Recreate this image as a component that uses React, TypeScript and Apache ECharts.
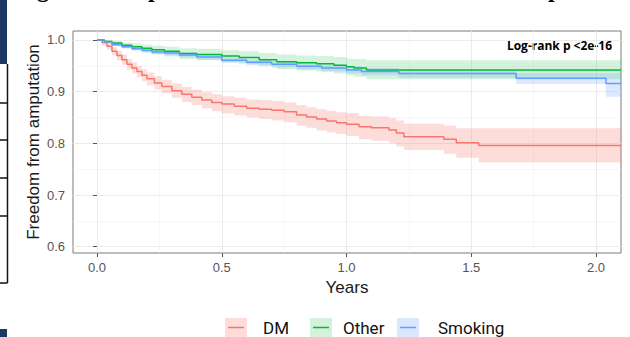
import React, { useEffect, useRef } from "react";
import * as echarts from "echarts";

// Kaplan-Meier estimates (time in years, survival)
const DM_T = [0, 0.02, 0.04, 0.06, 0.08, 0.1, 0.12, 0.14, 0.16, 0.18, 0.2, 0.23, 0.26, 0.3, 0.34, 0.38, 0.42, 0.46, 0.5, 0.55, 0.6, 0.65, 0.7, 0.75, 0.8, 0.84, 0.88, 0.92, 0.96, 1.0, 1.05, 1.1, 1.17, 1.2, 1.23, 1.39, 1.44, 1.53, 2.1];
const DM_S = [1.0, 0.995, 0.988, 0.978, 0.97, 0.962, 0.953, 0.946, 0.939, 0.932, 0.925, 0.917, 0.91, 0.902, 0.895, 0.889, 0.884, 0.879, 0.876, 0.872, 0.868, 0.866, 0.864, 0.861, 0.855, 0.851, 0.847, 0.843, 0.84, 0.837, 0.832, 0.83, 0.826, 0.82, 0.813, 0.808, 0.801, 0.796, 0.796];
const DM_LO = [1.0, 0.99, 0.981, 0.97, 0.961, 0.952, 0.943, 0.935, 0.928, 0.92, 0.912, 0.904, 0.897, 0.888, 0.88, 0.874, 0.868, 0.862, 0.858, 0.854, 0.85, 0.847, 0.844, 0.841, 0.834, 0.83, 0.825, 0.821, 0.818, 0.814, 0.808, 0.805, 0.8, 0.794, 0.787, 0.78, 0.772, 0.763, 0.763];
const DM_HI = [1.0, 0.999, 0.995, 0.986, 0.979, 0.972, 0.963, 0.957, 0.95, 0.944, 0.937, 0.93, 0.923, 0.916, 0.909, 0.904, 0.899, 0.895, 0.891, 0.888, 0.885, 0.884, 0.882, 0.879, 0.874, 0.87, 0.866, 0.863, 0.86, 0.858, 0.853, 0.852, 0.849, 0.844, 0.838, 0.834, 0.829, 0.829, 0.829];

const OT_T = [0, 0.03, 0.06, 0.1, 0.14, 0.18, 0.22, 0.27, 0.33, 0.4, 0.5, 0.57, 0.65, 0.72, 0.8, 0.88, 0.95, 1.0, 1.03, 1.08, 2.1];
const OT_S = [1.0, 0.997, 0.994, 0.99, 0.987, 0.984, 0.981, 0.978, 0.974, 0.972, 0.969, 0.966, 0.962, 0.958, 0.956, 0.954, 0.951, 0.948, 0.946, 0.942, 0.942];
const OT_LO = [1.0, 0.994, 0.989, 0.984, 0.98, 0.976, 0.972, 0.968, 0.963, 0.961, 0.957, 0.953, 0.949, 0.944, 0.941, 0.939, 0.935, 0.932, 0.929, 0.924, 0.922];
const OT_HI = [1.0, 1.0, 0.998, 0.995, 0.993, 0.991, 0.989, 0.987, 0.984, 0.983, 0.98, 0.978, 0.975, 0.972, 0.97, 0.969, 0.967, 0.964, 0.963, 0.961, 0.962];

const SM_T = [0, 0.03, 0.06, 0.1, 0.14, 0.18, 0.22, 0.27, 0.33, 0.4, 0.5, 0.6, 0.7, 0.8, 0.9, 1.0, 1.06, 1.21, 1.68, 2.04, 2.1];
const SM_S = [1.0, 0.996, 0.991, 0.987, 0.983, 0.98, 0.977, 0.975, 0.971, 0.967, 0.961, 0.957, 0.953, 0.949, 0.946, 0.942, 0.939, 0.935, 0.926, 0.916, 0.916];
const SM_LO = [1.0, 0.994, 0.988, 0.984, 0.98, 0.976, 0.973, 0.97, 0.966, 0.962, 0.956, 0.951, 0.947, 0.943, 0.939, 0.935, 0.932, 0.927, 0.915, 0.89, 0.89];
const SM_HI = [1.0, 0.998, 0.994, 0.99, 0.986, 0.984, 0.981, 0.979, 0.976, 0.972, 0.966, 0.962, 0.959, 0.955, 0.952, 0.949, 0.946, 0.943, 0.936, 0.936, 0.936];

const X_TICKS = [0, 0.5, 1.0, 1.5, 2.0];
const Y_TICKS = [0.6, 0.7, 0.8, 0.9, 1.0];
const GROUPS = ["DM", "Other", "Smoking"];
const COLORS = ["#F8766D", "#00BA38", "#619CFF"];
const FILLS = ["rgba(248,118,109,0.25)", "rgba(0,186,56,0.17)", "rgba(97,156,255,0.22)"];
const KEY_FILLS = ["#FDDCDA", "#D4F1DB", "#DBE7FF"];
const PVAL_TEXT = "Log-rank p <2e-16";
const X_TITLE = "Years";
const Y_TITLE = "Freedom from amputation";

export default function App() {
  const ref = useRef<HTMLDivElement>(null);

  useEffect(() => {
    const chart = echarts.init(ref.current!, null, { renderer: "svg" });
    const pairs = (t: number[], v: number[]) => t.map((x, i) => [x, v[i]]);
    const sets = [
      { t: DM_T, s: DM_S, lo: DM_LO, hi: DM_HI },
      { t: OT_T, s: OT_S, lo: OT_LO, hi: OT_HI },
      { t: SM_T, s: SM_S, lo: SM_LO, hi: SM_HI },
    ];
    const series: any[] = [];
    sets.forEach((d, k) => {
      series.push({
        type: "custom", name: GROUPS[k] + " CI", silent: true, z: 1,
        data: [[d.t[0], d.hi[0]]],
        renderItem: (_params: any, api: any) => {
          const upper: number[][] = [];
          const lower: number[][] = [];
          for (let i = 0; i < d.t.length; i++) {
            const tNext = i + 1 < d.t.length ? d.t[i + 1] : d.t[i];
            upper.push(api.coord([d.t[i], d.hi[i]]));
            upper.push(api.coord([tNext, d.hi[i]]));
            lower.push(api.coord([d.t[i], d.lo[i]]));
            lower.push(api.coord([tNext, d.lo[i]]));
          }
          const points = upper.concat(lower.reverse());
          return { type: "polygon", shape: { points }, style: { fill: FILLS[k], stroke: "none" } };
        },
      });
    });
    sets.forEach((d, k) => {
      series.push({
        type: "line", name: GROUPS[k], step: "end", data: pairs(d.t, d.s),
        symbol: "none", z: 3, lineStyle: { color: COLORS[k], width: 1.5 },
      });
    });

    const legendX = [225, 310, 397];
    const legendTextX = [263, 343, 438];
    const legendEls: any[] = [];
    GROUPS.forEach((g, k) => {
      legendEls.push({ type: "rect", shape: { x: legendX[k], y: 318, width: 22, height: 22 }, style: { fill: KEY_FILLS[k] } });
      legendEls.push({ type: "line", shape: { x1: legendX[k] + 3, y1: 327.5, x2: legendX[k] + 19, y2: 327.5 }, style: { stroke: COLORS[k], lineWidth: 1.5 } });
      legendEls.push({ type: "text", x: legendTextX[k], y: 328, style: { text: g, font: "17px Roboto", fill: "#111", verticalAlign: "middle" } });
    });

    const decor: any[] = [
      { type: "rect", shape: { x: 0, y: 0, width: 7, height: 64 }, style: { fill: "#1d3763" } },
      { type: "rect", shape: { x: 0, y: 329, width: 7, height: 8 }, style: { fill: "#1d3763" } },
      { type: "line", shape: { x1: 7.5, y1: 64, x2: 7.5, y2: 283 }, style: { stroke: "#111", lineWidth: 1.5 } },
      ...[103, 140, 178, 216, 283].map((y) => ({ type: "line", shape: { x1: 0, y1: y, x2: 7.5, y2: y }, style: { stroke: "#111", lineWidth: 1.5 } })),
      { type: "text", x: 37, y: 1, style: { text: "g", font: "bold 24px 'Liberation Serif'", fill: "#000", verticalAlign: "bottom" } },
      { type: "text", x: 148, y: 1, style: { text: "p", font: "bold 24px 'Liberation Serif'", fill: "#000", verticalAlign: "bottom" } },
      { type: "text", x: 548, y: 1, style: { text: "p", font: "bold 24px 'Liberation Serif'", fill: "#000", verticalAlign: "bottom" } },
      { type: "text", x: 612, y: 45, style: { text: PVAL_TEXT, font: "bold 12px 'Open Sans'", fill: "#000", align: "right", verticalAlign: "middle" } },
    ];

    chart.setOption({
      animation: false,
      backgroundColor: "#fff",
      grid: { left: 73, right: 9, top: 31, bottom: 84, show: true, borderColor: "#7a7a7a", borderWidth: 1, backgroundColor: "transparent" },
      xAxis: {
        type: "value", min: -0.0962, max: 2.1002, splitNumber: 5,
        name: X_TITLE, nameLocation: "middle", nameGap: 26, nameMoveOverlap: false,
        nameTextStyle: { fontFamily: "Liberation Sans", fontSize: 17, color: "#1a1a1a" },
        axisLine: { show: false },
        axisTick: { show: true, length: 4, lineStyle: { color: "#555" }, customValues: X_TICKS },
        axisLabel: { customValues: X_TICKS, formatter: (v: number) => v.toFixed(1), fontFamily: "Liberation Sans", fontSize: 13, color: "#555", margin: 8 },
        splitLine: { show: true, lineStyle: { color: "#ebebeb", width: 1 } },
        minorTick: { show: false, splitNumber: 2 },
        minorSplitLine: { show: true, lineStyle: { color: "#f3f3f3", width: 0.7 } },
      },
      yAxis: {
        type: "value", min: 0.5878, max: 1.0174, splitNumber: 5,
        name: Y_TITLE, nameLocation: "middle", nameGap: 31, nameMoveOverlap: false,
        nameTextStyle: { fontFamily: "Liberation Sans", fontSize: 17, color: "#1a1a1a" },
        axisLine: { show: false },
        axisTick: { show: true, length: 4, lineStyle: { color: "#555" }, customValues: Y_TICKS },
        axisLabel: { customValues: Y_TICKS, formatter: (v: number) => v.toFixed(1), fontFamily: "Liberation Sans", fontSize: 13, color: "#555", margin: 8 },
        splitLine: { show: true, lineStyle: { color: "#ebebeb", width: 1 } },
        minorTick: { show: false, splitNumber: 2 },
        minorSplitLine: { show: true, lineStyle: { color: "#f3f3f3", width: 0.7 } },
      },
      graphic: { elements: [...decor, ...legendEls] },
      series,
    });
    return () => chart.dispose();
  }, []);

  return <div ref={ref} style={{ position: "absolute", left: 0, top: 0, width: 630, height: 337 }} />;
}
